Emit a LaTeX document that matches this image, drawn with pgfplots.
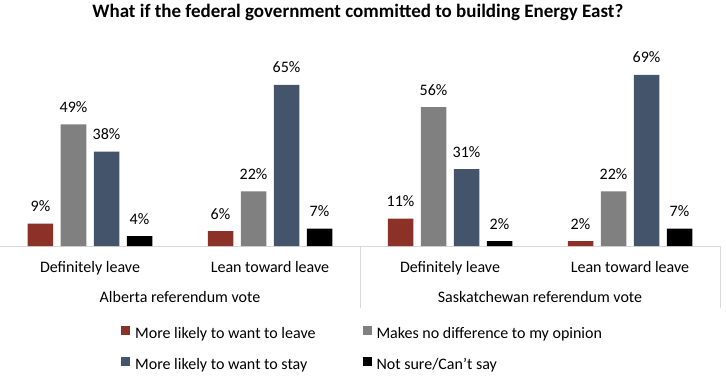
\documentclass[border=0pt]{standalone}
\usepackage{fontspec}
\setmainfont{Carlito}
\usepackage{pgfplots}
\pgfplotsset{compat=1.18}
\definecolor{cred}{HTML}{8C3127}
\definecolor{cgray}{HTML}{808080}
\definecolor{cnavy}{HTML}{44546A}
\definecolor{cline}{HTML}{D9D9D9}
\newcommand{\fs}{\fontsize{16pt}{19pt}\selectfont}
\begin{document}
\begin{tikzpicture}
\begin{axis}[
 name=ax,
 scale only axis, width=720pt, height=178.6pt,
 xmin=-0.5, xmax=3.5, ymin=0, ymax=72,
 ybar=7.5pt, bar width=25.5pt,
 xtick={0,1,2,3},
 xticklabels={Definitely leave, Lean toward leave, Definitely leave, Lean toward leave},
 ytick=\empty,
 major tick length=0pt,
 axis line style={draw=none},
 xticklabel style={font=\fs, anchor=base, yshift=-26.3pt},
 nodes near coords={\pgfmathprintnumber{\pgfplotspointmeta}\%},
 every node near coord/.append style={font=\fs, anchor=base, yshift=12pt},
 /pgf/number format/assume math mode=true,
 legend columns=2, legend cell align=left,
 legend style={draw=none, inner sep=0pt, at={(axis description cs:0.168,-0.446)}, anchor=north west,
   font=\fs, nodes={inner sep=0pt, text height=11pt, text depth=4pt},
   column sep=5pt, /tikz/every even column/.append style={column sep=47pt}, row sep=15pt},
 legend image code/.code={\fill[#1] (0pt,0pt) rectangle (9pt,9pt);},
 title={What if the federal government committed to building Energy East?},
 title style={font=\fontsize{19pt}{22pt}\selectfont\bfseries, at={(axis description cs:0.497,1.2486)}, anchor=base},
 clip=false,
]
\draw[cline, line width=1pt] (rel axis cs:0,0) -- (rel axis cs:1,0);
\draw[cline, line width=1pt] (axis cs:1.5,0) -- ([yshift=-62pt]axis cs:1.5,0);
\draw[cline, line width=1pt] (axis cs:3.5,0) -- ([yshift=-62pt]axis cs:3.5,0);
\addplot[fill=cred, draw=none] coordinates {(0,9) (1,6) (2,11) (3,2)};
\addplot[fill=cgray, draw=none] coordinates {(0,49) (1,22) (2,56) (3,22)};
\addplot[fill=cnavy, draw=none] coordinates {(0,38) (1,65) (2,31) (3,69)};
\addplot[fill=black, draw=none] coordinates {(0,4) (1,7) (2,2) (3,7)};
\legend{More likely to want to leave, Makes no difference to my opinion, More likely to want to stay, Not sure/Can’t say}
\node[font=\fs, anchor=base] at ([yshift=-56.3pt]axis cs:0.5,0) {Alberta referendum vote};
\node[font=\fs, anchor=base] at ([yshift=-56.3pt]axis cs:2.5,0) {Saskatchewan referendum vote};
\end{axis}
\pgfresetboundingbox
\path[use as bounding box] ([shift={(0pt,-130pt)}]ax.south west) rectangle ([shift={(726pt,246pt)}]ax.south west);
\end{tikzpicture}
\end{document}
